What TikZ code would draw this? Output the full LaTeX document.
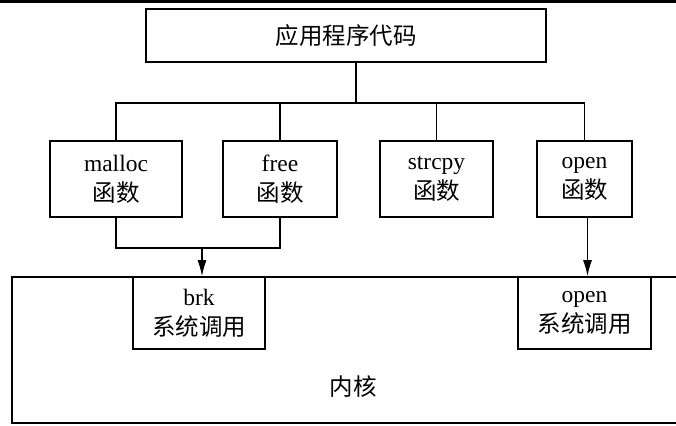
\documentclass[tikz,border=0pt]{standalone}
\usepackage{fontspec}
\setmainfont{Liberation Serif}
\newfontfamily\cjk{Noto Sans CJK SC}
\usetikzlibrary{arrows.meta}
\begin{document}
\begin{tikzpicture}[x=1pt,y=-1pt,
  box/.style={draw, line width=1.6pt, align=center, inner sep=0pt,
    font=\fontsize{23.5}{30}\selectfont},
  fbox/.style={box, minimum height=76pt},
  sbox/.style={box, minimum height=72pt},
  conn/.style={line width=1.3pt},
  arr/.style={conn, -{Latex[length=16pt,width=9pt]}}]
\useasboundingbox (0,0) rectangle (676,425);
\clip (0,0) rectangle (676,425);
\draw[line width=2.7pt] (0,1.3) -- (676,1.3);
% kernel
\node[draw, line width=1.6pt, minimum width=682pt, minimum height=146pt, inner sep=0pt] (kernel) at (353,350) {};
\node[font=\fontsize{23.5}{30}\selectfont] (kerneltext) at (353,387) {\cjk 内核};
% boxes
\node[box, minimum width=400pt, minimum height=53pt] (app) at (346,35.5) {\cjk 应用程序代码};
\node[fbox, minimum width=132pt] (malloc) at (116,179) {malloc\\{\cjk 函数}};
\node[fbox, minimum width=114pt] (free) at (280,179) {free\\{\cjk 函数}};
\node[fbox, minimum width=113pt] (strcpy) at (436.5,179) {strcpy\\{\cjk 函数}};
\node[fbox, minimum width=95pt] (open) at (584.5,179) {open\\{\cjk 函数}};
\node[sbox, minimum width=132pt] (brk) at (199,313) {brk\\{\cjk 系统调用}};
\node[sbox, minimum width=133pt] (opensys) at (584.5,313) {open\\{\cjk 系统调用}};
% connectors
\coordinate (bus) at (0,103);
\coordinate (join) at (0,248);
\coordinate (stem) at ([xshift=10pt]app.south);
\draw[conn] (stem) -- (stem |- bus);
\draw[conn] (malloc.north) -- (malloc.north |- bus) -- (open.north |- bus) -- (open.north);
\draw[conn] (free.north) -- (free.north |- bus);
\draw[conn] (strcpy.north) -- (strcpy.north |- bus);
\draw[conn] (malloc.south) -- (malloc.south |- join) -- (free.south |- join) -- (free.south);
\draw[arr] ([xshift=3pt]brk.north |- join) -- ([xshift=3pt]brk.north);
\draw[arr] ([xshift=3pt]open.south) -- ([xshift=3pt]opensys.north);
\end{tikzpicture}
\end{document}
